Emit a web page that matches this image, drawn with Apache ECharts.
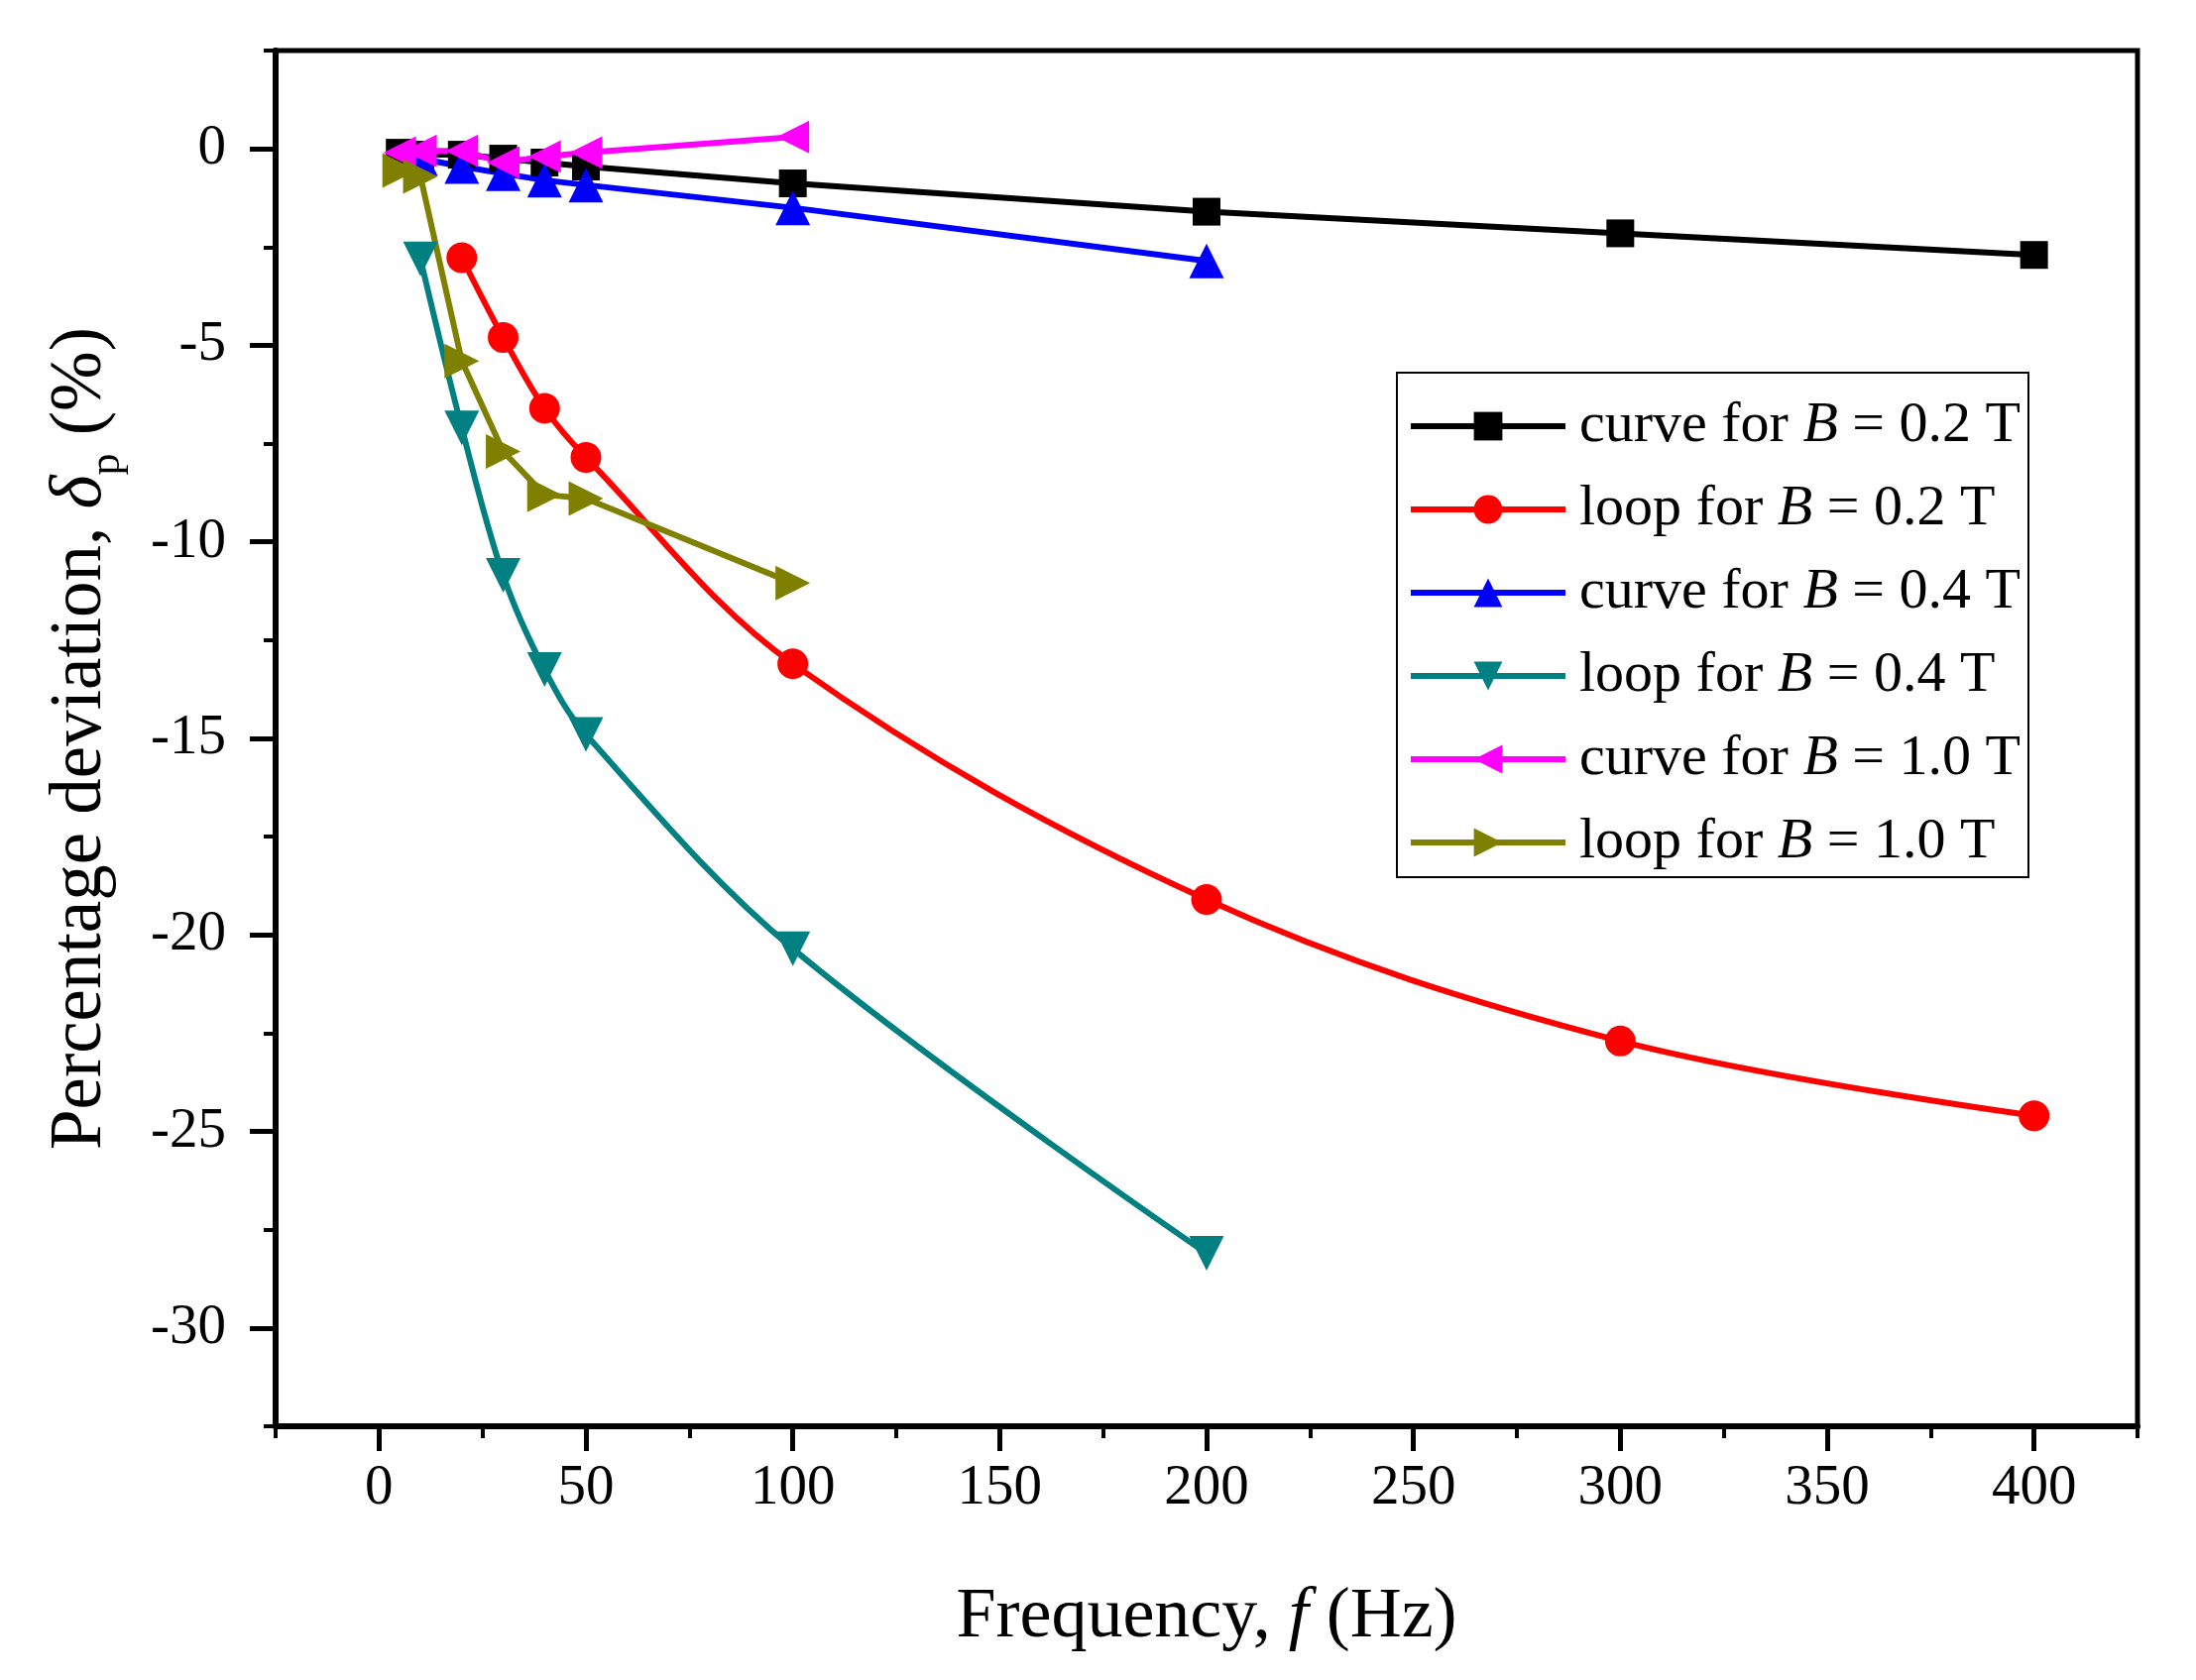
<!DOCTYPE html>
<html><head><meta charset="utf-8">
<script src="https://cdn.jsdelivr.net/npm/echarts@6/dist/echarts.min.js"></script>
<style>html,body{margin:0;padding:0;background:#fff}#c{width:2215px;height:1695px}</style>
</head><body><div id="c"></div>
<script>
const seriesNames = ['curve for B = 0.2 T','loop for B = 0.2 T','curve for B = 0.4 T','loop for B = 0.4 T','curve for B = 1.0 T','loop for B = 1.0 T'];

const freqCurve02 = [5, 10, 20, 30, 40, 50, 100, 200, 300, 400];
const valCurve02  = [-0.1, -0.15, -0.15, -0.25, -0.35, -0.45, -0.88, -1.6, -2.15, -2.7];

const freqLoop02 = [20, 30, 40, 50, 100, 200, 300, 400];
const valLoop02  = [-2.77, -4.8, -6.6, -7.85, -13.1, -19.1, -22.7, -24.6];

const freqCurve04 = [10, 20, 30, 40, 50, 100, 200];
const valCurve04  = [-0.25, -0.45, -0.63, -0.8, -0.92, -1.5, -2.85];

const freqLoop04 = [10, 20, 30, 40, 50, 100, 200];
const valLoop04  = [-2.8, -7.1, -10.85, -13.25, -14.9, -20.35, -28.1];

const freqCurve10 = [5, 10, 20, 30, 40, 50, 100];
const valCurve10  = [-0.1, -0.05, -0.05, -0.35, -0.2, -0.1, 0.3];

const freqLoop10 = [5, 10, 20, 30, 40, 50, 100];
const valLoop10  = [-0.55, -0.7, -5.4, -7.7, -8.8, -8.9, -11.05];

const xMajorTicks = [0, 50, 100, 150, 200, 250, 300, 350, 400];
const xMinorTicks = [-25, 25, 75, 125, 175, 225, 275, 325, 375, 425];
const yMajorTicks = [-30, -25, -20, -15, -10, -5, 0];
const yMinorTicks = [-32.5, -27.5, -22.5, -17.5, -12.5, -7.5, -2.5, 2.5];

const FONT = 'Liberation Serif';
const pair = (xs, ys) => xs.map((x, i) => [x, ys[i]]);

const chart = echarts.init(document.getElementById('c'), null, {renderer: 'canvas'});

function mkSeries(name, xs, ys, color, symbol, size, rotate, smooth) {
  return {
    name: name, type: 'line', xAxisIndex: 0, yAxisIndex: 0,
    data: pair(xs, ys),
    symbol: symbol, symbolSize: size, symbolRotate: rotate, symbolKeepAspect: true,
    showAllSymbol: true,
    smooth: smooth ? 0.35 : false,
    lineStyle: {color: color, width: 6},
    itemStyle: {color: color, borderWidth: 0},
    emphasis: {disabled: true},
    animation: false
  };
}

const baseAxisLabel = {color: '#000', fontFamily: FONT, fontSize: 57};

const option = {
  backgroundColor: '#fff',
  animation: false,
  grid: {left: 278, top: 51, width: 1878, height: 1388, show: true, borderColor: '#000', borderWidth: 5,
         backgroundColor: 'rgba(0,0,0,0)', containLabel: false, outerBoundsMode: 'none'},
  legend: {
    orient: 'vertical', left: 1409, top: 376,
    padding: [25, 8, 6, 11], itemGap: 26, itemWidth: 156, itemHeight: 36,
    borderColor: '#000', borderWidth: 2, backgroundColor: '#fff',
    data: seriesNames,
    lineStyle: {width: 6},
    formatter: function (name) {
      const parts = name.split('B');
      return '{n|' + parts[0] + '}{i|B}{n|' + parts[1] + '}';
    },
    textStyle: {
      color: '#000', fontFamily: FONT, fontSize: 58, padding: [0, 0, 0, 9],
      rich: {
        n: {fontFamily: FONT, fontSize: 58, lineHeight: 60, color: '#000'},
        i: {fontFamily: FONT, fontSize: 58, lineHeight: 60, fontStyle: 'italic', color: '#000'}
      }
    }
  },
  xAxis: [
    {
      type: 'value', min: -25, max: 425, position: 'bottom',
      name: '{n|Frequency, }{i|f}{n| (Hz)}', nameLocation: 'middle', nameGap: 157,
      nameTextStyle: {
        rich: {
          n: {fontFamily: FONT, fontSize: 72, lineHeight: 72, color: '#000'},
          i: {fontFamily: FONT, fontSize: 72, lineHeight: 72, fontStyle: 'italic', color: '#000'}
        }
      },
      axisLine: {show: true, onZero: false, lineStyle: {color: '#000', width: 6}},
      axisTick: {show: true, customValues: xMajorTicks, length: 25, lineStyle: {color: '#000', width: 5}},
      axisLabel: Object.assign({customValues: xMajorTicks, margin: 35}, baseAxisLabel),
      splitLine: {show: false}
    },
    {
      type: 'value', min: -25, max: 425, position: 'bottom',
      axisLine: {show: false, onZero: false},
      axisTick: {show: true, customValues: xMinorTicks, length: 12, lineStyle: {color: '#000', width: 4}},
      axisLabel: {show: false},
      splitLine: {show: false}
    }
  ],
  yAxis: [
    {
      type: 'value', min: -32.5, max: 2.5, position: 'left',
      name: '{n|Percentage deviation, }{i|δ}{s|p}{n| (%)}', nameLocation: 'middle', nameGap: 148, nameRotate: 90,
      nameTextStyle: {
        rich: {
          n: {fontFamily: FONT, fontSize: 73, lineHeight: 97, color: '#000'},
          i: {fontFamily: FONT, fontSize: 73, lineHeight: 97, fontStyle: 'italic', color: '#000'},
          s: {fontFamily: FONT, fontSize: 44, lineHeight: 44, verticalAlign: 'bottom', color: '#000'}
        }
      },
      axisLine: {show: true, onZero: false, lineStyle: {color: '#000', width: 6}},
      axisTick: {show: true, customValues: yMajorTicks, length: 26, lineStyle: {color: '#000', width: 5}},
      axisLabel: Object.assign({customValues: yMajorTicks, margin: 50}, baseAxisLabel),
      splitLine: {show: false}
    },
    {
      type: 'value', min: -32.5, max: 2.5, position: 'left',
      axisLine: {show: false, onZero: false},
      axisTick: {show: true, customValues: yMinorTicks, length: 12, lineStyle: {color: '#000', width: 4}},
      axisLabel: {show: false},
      splitLine: {show: false}
    }
  ],
  series: [
    mkSeries(seriesNames[0], freqCurve02, valCurve02, '#000000', 'rect', 28, 0, false),
    mkSeries(seriesNames[1], freqLoop02, valLoop02, '#ff0000', 'circle', 31, 0, true),
    mkSeries(seriesNames[2], freqCurve04, valCurve04, '#0000ff', 'triangle', 35, 0, false),
    mkSeries(seriesNames[3], freqLoop04, valLoop04, '#008080', 'triangle', 35, 180, true),
    mkSeries(seriesNames[4], freqCurve10, valCurve10, '#ff00ff', 'triangle', 33, 90, false),
    mkSeries(seriesNames[5], freqLoop10, valLoop10, '#808000', 'triangle', 35, -90, false)
  ]
};
chart.setOption(option);
</script>
</body></html>
